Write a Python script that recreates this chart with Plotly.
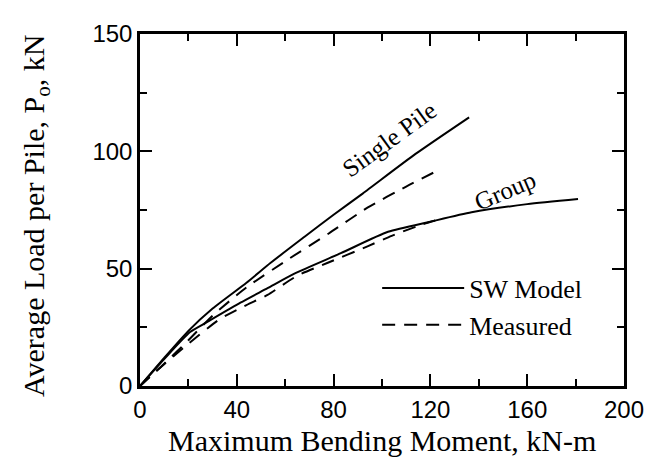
import plotly.graph_objects as go

# Single pile, SW model (solid)
single_sw_x = [0, 10, 20, 30, 44, 54, 68, 80, 92, 114, 136]
single_sw_y = [0, 12, 23.5, 33, 44, 52.5, 63.6, 73, 82, 99, 114.5]
# Single pile, measured (dashed)
single_meas_x = [0, 10, 20, 30, 44, 62, 78, 94, 110, 124.5]
single_meas_y = [0, 9.5, 19.5, 30, 42, 54.5, 65, 76, 85, 92.6]
# Group, SW model (solid)
group_sw_x = [0, 10, 20.7, 27.8, 41.5, 52.7, 64, 83, 102.5, 120, 137, 160, 181]
group_sw_y = [0, 11.5, 23, 27.3, 35.5, 41.7, 48, 56.6, 65.7, 70, 74, 77.5, 79.7]
# Group, measured (dashed)
group_meas_x = [0, 7, 20, 33, 44, 52.7, 65, 77.6, 94, 104, 116, 122]
group_meas_y = [0, 6.6, 18, 28.5, 34.5, 38.8, 47, 52.5, 59.5, 64, 68.6, 70.5]

x_ticks = [0, 40, 80, 120, 160, 200]
y_ticks = [0, 50, 100, 150]

serif = "Liberation Serif, Times New Roman, serif"
sans = "Liberation Sans, Arial, sans-serif"
DASH = "13px,9px"

fig = go.Figure()
fig.add_trace(go.Scatter(x=single_sw_x, y=single_sw_y, mode="lines",
                         line=dict(color="black", width=2, shape="spline", smoothing=0.6),
                         name="SW Model", legendgroup="sw", showlegend=True))
fig.add_trace(go.Scatter(x=group_sw_x, y=group_sw_y, mode="lines",
                         line=dict(color="black", width=2, shape="spline", smoothing=0.6),
                         name="SW Model", legendgroup="sw", showlegend=False))
fig.add_trace(go.Scatter(x=single_meas_x, y=single_meas_y, mode="lines",
                         line=dict(color="black", width=2, dash=DASH, shape="spline", smoothing=0.6),
                         name="Measured", legendgroup="meas", showlegend=True))
fig.add_trace(go.Scatter(x=group_meas_x, y=group_meas_y, mode="lines",
                         line=dict(color="black", width=2, dash=DASH, shape="spline", smoothing=0.6),
                         name="Measured", legendgroup="meas", showlegend=False))

fig.add_annotation(x=103, y=105, text="Single Pile", showarrow=False, textangle=-36,
                   font=dict(family=serif, size=25, color="black"))
fig.add_annotation(x=151, y=83.5, text="Group", showarrow=False, textangle=-23,
                   font=dict(family=serif, size=25, color="black"))

# axis titles
fig.add_annotation(xref="paper", yref="paper", x=0.5, y=-0.155, xanchor="center", yanchor="middle",
                   text="Maximum Bending Moment, kN-m", showarrow=False,
                   font=dict(family=serif, size=30, color="black"))
fig.add_annotation(xref="paper", yref="paper", x=-0.215, y=0.483, xanchor="center", yanchor="middle",
                   text="Average Load per Pile, P<sub>o</sub>, kN", showarrow=False, textangle=-90,
                   font=dict(family=serif, size=30, color="black"))

axis_common = dict(showgrid=False, zeroline=False, showline=True, linecolor="black",
                   linewidth=2.5, mirror="ticks", ticks="inside", ticklen=12, tickwidth=2,
                   tickcolor="black", tickfont=dict(family=sans, size=24, color="black"))

fig.update_xaxes(range=[0, 200], tickvals=x_ticks, ticktext=[str(v) for v in x_ticks],
                 minor=dict(ticks="inside", ticklen=7, tickwidth=2, tickcolor="black", dtick=20, tick0=0),
                 **axis_common)
fig.update_yaxes(range=[0, 150], tickvals=y_ticks, ticktext=[str(v) for v in y_ticks],
                 minor=dict(ticks="inside", ticklen=7, tickwidth=2, tickcolor="black", dtick=25, tick0=0),
                 **axis_common)

fig.update_layout(
    width=653, height=460,
    margin=dict(l=132, r=37, t=16, b=82),
    plot_bgcolor="white", paper_bgcolor="white",
    legend=dict(x=0.49, y=0.345, xanchor="left", yanchor="top", bgcolor="rgba(0,0,0,0)",
                font=dict(family=serif, size=26, color="black"), itemwidth=82,
                tracegroupgap=0),
)

fig.write_html("out.html")
